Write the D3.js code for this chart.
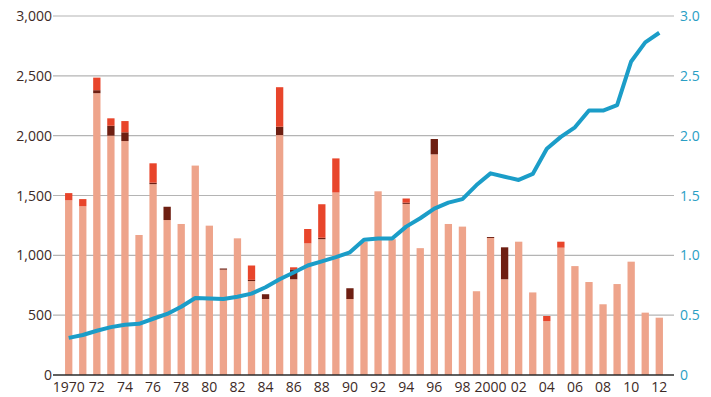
<!DOCTYPE html>
<html>
<head>
<meta charset="utf-8">
<script src="https://cdn.jsdelivr.net/npm/d3@7"></script>
<style>
  body { margin: 0; background: #fff; }
  svg { display: block; }
  text { font-family: "Open Sans", "Noto Sans", sans-serif; }
</style>
</head>
<body>
<svg id="chart" width="711" height="397"></svg>
<script>
  // years 1970 - 2012
  const years = d3.range(1970, 2013);

  // bar pieces (left axis)
  const baseVals = [1460, 1410, 2355, 2000, 1955, 1170, 1595, 1295, 1262, 1750,
    1248, 880, 1142, 785, 635, 2005, 800, 1100, 1135, 1525,
    635, 1115, 1535, 1135, 1430, 1060, 1844, 1262, 1240, 700,
    1145, 800, 1114, 690, 450, 1064, 910, 777, 591, 760,
    947, 521, 479];
  const darkVals = [0, 0, 25, 83, 73, 0, 12, 111, 0, 0,
    0, 10, 0, 10, 40, 70, 83, 0, 12, 0,
    90, 0, 0, 0, 10, 0, 128, 0, 0, 0,
    8, 267, 0, 0, 0, 0, 0, 0, 0, 0,
    0, 0, 0];
  const redVals = [60, 60, 105, 62, 94, 0, 162, 0, 0, 0,
    0, 0, 0, 120, 0, 330, 17, 120, 280, 285,
    0, 0, 0, 0, 35, 0, 0, 0, 0, 0,
    0, 0, 0, 0, 43, 50, 0, 0, 0, 0,
    0, 0, 0];

  // line (right axis)
  const lineVals = [0.31, 0.334, 0.37, 0.40, 0.42, 0.428, 0.47, 0.51, 0.57, 0.644,
    0.64, 0.635, 0.654, 0.68, 0.733, 0.80, 0.857, 0.915, 0.95, 0.985,
    1.025, 1.13, 1.14, 1.14, 1.24, 1.31, 1.39, 1.44, 1.47, 1.587,
    1.685, 1.657, 1.63, 1.68, 1.89, 1.99, 2.07, 2.21, 2.21, 2.255,
    2.62, 2.78, 2.86];

  const leftTicks = [0, 500, 1000, 1500, 2000, 2500, 3000];
  const rightTicks = [0, 0.5, 1.0, 1.5, 2.0, 2.5, 3.0];
  const xTickYears = years.filter(y => y % 2 === 0);

  const svg = d3.select('#chart');

  const x = d3.scaleBand()
    .domain(years)
    .range([55, 673])
    .paddingInner(0.48)
    .paddingOuter(0.715);
  const yL = d3.scaleLinear().domain([0, 3000]).range([375, 16]);
  const yR = d3.scaleLinear().domain([0, 3]).range([375, 16]);

  // gridlines
  svg.append('g')
    .selectAll('line')
    .data(leftTicks.slice(1))
    .enter()
    .append('line')
    .attr('x1', 53)
    .attr('x2', 674)
    .attr('y1', d => yL(d))
    .attr('y2', d => yL(d))
    .attr('stroke', '#b4b4b4')
    .attr('stroke-width', 1.2);

  // left labels
  svg.append('g')
    .selectAll('text')
    .data(leftTicks)
    .enter()
    .append('text')
    .attr('x', 52)
    .attr('y', d => yL(d) + 5)
    .attr('text-anchor', 'end')
    .attr('font-size', 14)
    .attr('fill', '#3d2a26')
    .text(d => d3.format(',')(d));

  // right labels
  svg.append('g')
    .selectAll('text')
    .data(rightTicks)
    .enter()
    .append('text')
    .attr('x', 680)
    .attr('y', d => yR(d) + 5)
    .attr('font-size', 14)
    .attr('fill', '#2a9ec4')
    .text(d => d === 0 ? '0' : d3.format('.1f')(d));

  // stacked bars
  const rows = years.map((yr, i) => ({ year: yr, base: baseVals[i], dark: darkVals[i], red: redVals[i] }));
  const stack = d3.stack().keys(['base', 'dark', 'red'])(rows);
  const colors = { base: '#eea48b', dark: '#6e1f12', red: '#e8452b' };

  svg.append('g')
    .selectAll('g')
    .data(stack)
    .enter()
    .append('g')
    .attr('fill', d => colors[d.key])
    .selectAll('rect')
    .data(d => d.filter(p => p[1] - p[0] > 0))
    .enter()
    .append('rect')
    .attr('x', d => x(d.data.year))
    .attr('width', x.bandwidth())
    .attr('y', d => yL(d[1]))
    .attr('height', d => yL(d[0]) - yL(d[1]));

  // baseline
  svg.append('line')
    .attr('x1', 53)
    .attr('x2', 674)
    .attr('y1', yL(0))
    .attr('y2', yL(0))
    .attr('stroke', '#2b2b2b')
    .attr('stroke-width', 1.5);

  // x labels
  svg.append('g')
    .selectAll('text')
    .data(xTickYears)
    .enter()
    .append('text')
    .attr('x', d => x(d) + x.bandwidth() / 2)
    .attr('y', 392)
    .attr('text-anchor', 'middle')
    .attr('font-size', 14)
    .attr('fill', '#3d2a26')
    .text(d => (d === 1970 || d === 2000) ? d : String(d).slice(2));

  // line
  const line = d3.line()
    .x((d, i) => x(years[i]) + x.bandwidth() / 2)
    .y(d => yR(d));

  svg.append('path')
    .datum(lineVals)
    .attr('d', line)
    .attr('fill', 'none')
    .attr('stroke', '#1b9dc8')
    .attr('stroke-width', 4)
    .attr('stroke-linejoin', 'round');
</script>
</body>
</html>
